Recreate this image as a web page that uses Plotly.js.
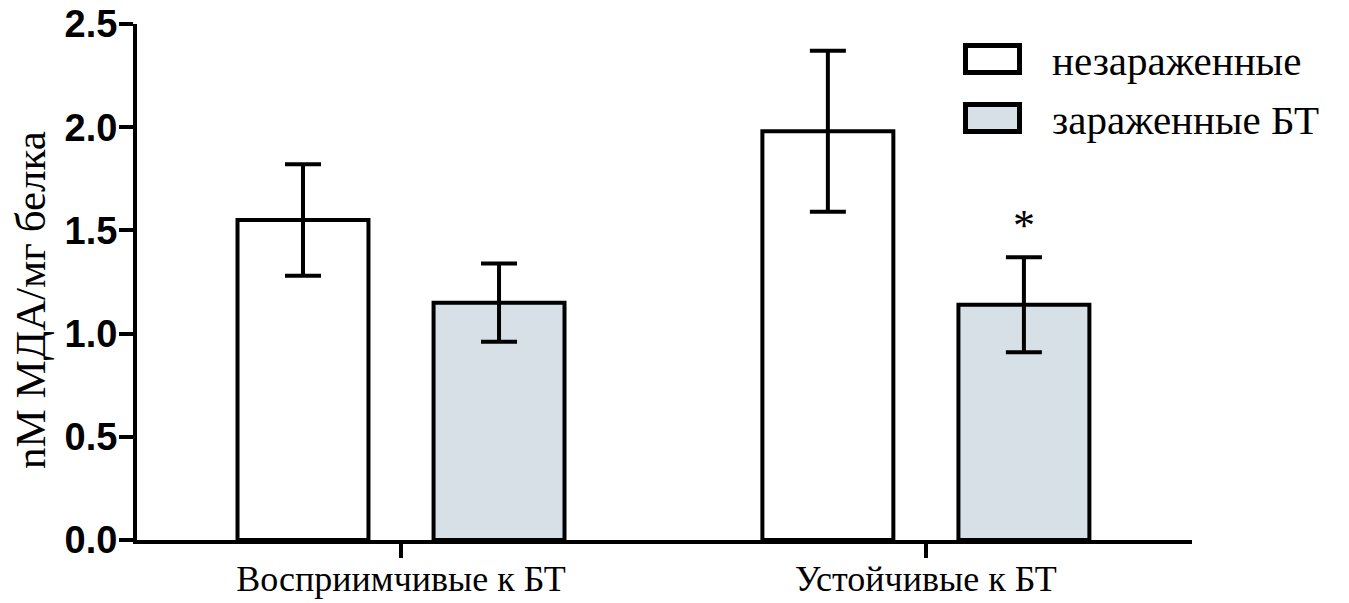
<!DOCTYPE html>
<html>
<head>
<meta charset="utf-8">
<script src="https://cdn.plot.ly/plotly-3.0.1.min.js"></script>
<style>
  html, body { margin: 0; padding: 0; background: #ffffff; }
  #chart { width: 1349px; height: 603px; }
</style>
</head>
<body>
<div id="chart"></div>
<script>
// Groups of plants and MDA content (nM MDA / mg protein), mean ± error
const groups = ['Восприимчивые к БТ', 'Устойчивые к БТ'];
const seriesNames = ['незараженные', 'зараженные БТ'];
const uninfected = [1.55, 1.98];
const uninfectedErr = [0.27, 0.39];
const infected = [1.15, 1.14];
const infectedErr = [0.19, 0.23];
const yTicks = [0, 0.5, 1.0, 1.5, 2.0, 2.5];
const yTickText = ['0.0', '0.5', '1.0', '1.5', '2.0', '2.5'];
const yTitle = 'nM МДА/мг белка';
const starMark = '*';

const W = 1349, H = 603;
const M = { l: 137, r: 157, t: 24, b: 63 };
const plotW = W - M.l - M.r, plotH = H - M.t - M.b;
// pixel -> paper helpers for the hand-drawn legend and side title
const px = x => (x - M.l) / plotW;
const py = y => (H - M.b - y) / plotH;

const FILL = '#d7e0e7';
const serif = 'Liberation Serif, Times New Roman, serif';
const sans = 'Liberation Sans, Arial, sans-serif';

const barCommon = {
  type: 'bar',
  x: groups,
  showlegend: false,
  hoverinfo: 'skip'
};

const traces = [
  Object.assign({}, barCommon, {
    name: seriesNames[0],
    y: uninfected,
    marker: { color: '#ffffff', line: { color: '#000000', width: 4 } },
    error_y: { type: 'data', array: uninfectedErr, visible: true, color: '#000000', thickness: 4, width: 18 }
  }),
  Object.assign({}, barCommon, {
    name: seriesNames[1],
    y: infected,
    marker: { color: FILL, line: { color: '#000000', width: 4 } },
    error_y: { type: 'data', array: infectedErr, visible: true, color: '#000000', thickness: 4, width: 18 }
  })
];

const BARGAP = 0.253, GROUPGAP = 0.332;
const slotHalf = (1 - BARGAP) / 4; // centre offset of each bar inside its group

// legend boxes
const legendShapes = [0, 1].map(i => ({
  type: 'rect', xref: 'paper', yref: 'paper',
  x0: px(965.5), x1: px(1019.5),
  y0: py(45.5 + i * 59), y1: py(72.5 + i * 59),
  line: { color: '#000000', width: 5 },
  fillcolor: i === 0 ? '#ffffff' : FILL
}));

const legendText = seriesNames.map((t, i) => ({
  xref: 'paper', yref: 'paper',
  x: px(1050), y: py(61 + i * 59),
  xanchor: 'left', yanchor: 'middle',
  text: t, showarrow: false,
  font: { family: serif, size: 41, color: '#000000' }
}));

const sideTitle = {
  xref: 'paper', yref: 'paper',
  x: px(30), y: py(300),
  xanchor: 'center', yanchor: 'middle',
  text: yTitle, textangle: -90, showarrow: false,
  font: { family: serif, size: 43, color: '#000000' }
};

const star = {
  xref: 'x', yref: 'y',
  x: 1 + slotHalf, y: infected[1] + infectedErr[1],
  xanchor: 'center', yanchor: 'middle',
  text: starMark, showarrow: false, yshift: 32,
  font: { family: serif, size: 44, color: '#000000' }
};

const layout = {
  width: W, height: H,
  margin: M,
  paper_bgcolor: '#ffffff',
  plot_bgcolor: '#ffffff',
  barmode: 'group',
  bargap: BARGAP,
  bargroupgap: GROUPGAP,
  showlegend: false,
  xaxis: {
    type: 'category',
    range: [-0.503, 1.507],
    showline: true, linecolor: '#000000', linewidth: 4,
    ticks: 'outside', ticklen: 14, tickwidth: 4, tickcolor: '#000000',
    ticklabelstandoff: -10,
    showgrid: false, zeroline: false,
    tickfont: { family: serif, size: 36, color: '#000000' }
  },
  yaxis: {
    range: [0, 2.5],
    tickvals: yTicks, ticktext: yTickText,
    showline: true, linecolor: '#000000', linewidth: 4,
    ticks: 'outside', ticklen: 14, tickwidth: 4, tickcolor: '#000000',
    ticklabelstandoff: -6,
    showgrid: false, zeroline: false,
    tickfont: { family: sans, size: 38, color: '#000000', weight: 'bold' }
  },
  shapes: legendShapes,
  annotations: legendText.concat([sideTitle, star])
};

Plotly.newPlot('chart', traces, layout, { displayModeBar: false, staticPlot: true });
</script>
</body>
</html>
